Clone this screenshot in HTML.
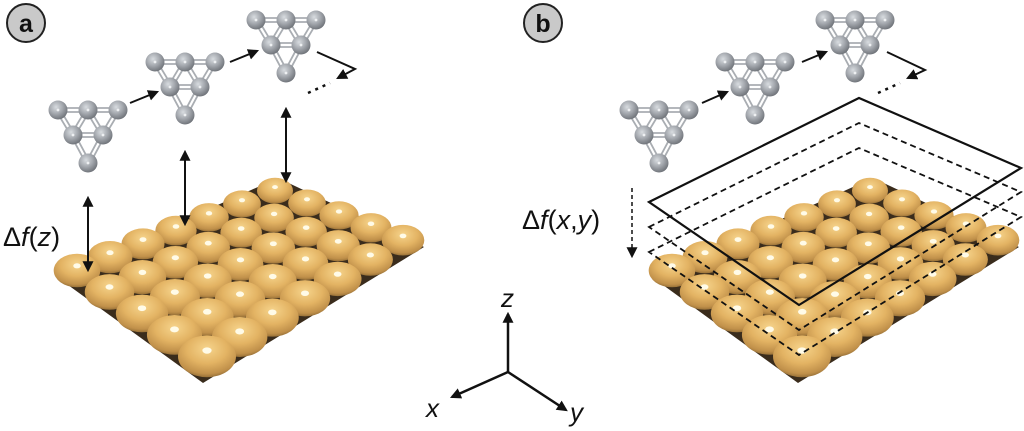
<!DOCTYPE html>
<html><head><meta charset="utf-8"><style>
html,body{margin:0;padding:0;background:#fff;}
svg{display:block;}
text{font-family:"Liberation Sans",sans-serif;}
</style></head><body>
<svg id="s" width="1024" height="431" viewBox="0 0 1024 431" xmlns="http://www.w3.org/2000/svg">
<defs>
<radialGradient id="au" cx="0.5" cy="0.32" r="0.7">
<stop offset="0" stop-color="#f6d48c"/>
<stop offset="0.5" stop-color="#e3b363"/>
<stop offset="0.85" stop-color="#c0904a"/>
<stop offset="1" stop-color="#8f6a34"/>
</radialGradient>
<radialGradient id="c" cx="0.4" cy="0.35" r="0.7">
<stop offset="0" stop-color="#d8dce0"/>
<stop offset="0.5" stop-color="#a4a8ae"/>
<stop offset="1" stop-color="#6a6e74"/>
</radialGradient>
<marker id="ah" viewBox="0 0 10 10" refX="8" refY="5" markerWidth="7" markerHeight="7" markerUnits="userSpaceOnUse" orient="auto-start-reverse">
<path d="M0,0 L10,5 L0,10 z" fill="#111"/>
</marker>
<marker id="ah2" viewBox="0 0 10 10" refX="8" refY="5" markerWidth="11" markerHeight="11" markerUnits="userSpaceOnUse" orient="auto-start-reverse">
<path d="M0,0 L10,5 L0,10 z" fill="#111"/>
</marker>
</defs>
<g id="surf"></g>
<g id="mols"></g>
<g fill="none" stroke="#111" stroke-width="2">
<line x1="130" y1="103" x2="157" y2="92" marker-end="url(#ah2)"/>
<line x1="230" y1="62" x2="257" y2="51" marker-end="url(#ah2)"/>
<polyline points="317,52 355,69 338,78" marker-end="url(#ah2)"/>
<line x1="308" y1="93" x2="330" y2="83" stroke-dasharray="3,5" stroke-width="2.5"/>
<line x1="88" y1="198" x2="88" y2="270" marker-start="url(#ah2)" marker-end="url(#ah2)"/>
<line x1="185" y1="152" x2="185" y2="224" marker-start="url(#ah2)" marker-end="url(#ah2)"/>
<line x1="286" y1="109" x2="286" y2="181" marker-start="url(#ah2)" marker-end="url(#ah2)"/>
<line x1="702" y1="103" x2="727" y2="92" marker-end="url(#ah2)"/>
<line x1="802" y1="62" x2="826" y2="52" marker-end="url(#ah2)"/>
<polyline points="887,52 925,70 908,78" marker-end="url(#ah2)"/>
<line x1="878" y1="93" x2="900" y2="83" stroke-dasharray="3,5" stroke-width="2.5"/>
<line x1="632" y1="188" x2="632" y2="256" stroke-dasharray="4,3" stroke-width="1.5" marker-end="url(#ah2)"/>
<line x1="508" y1="372" x2="508" y2="314" stroke-width="2.5" marker-end="url(#ah2)"/>
<line x1="508" y1="372" x2="452" y2="397" stroke-width="2.5" marker-end="url(#ah2)"/>
<line x1="508" y1="372" x2="566" y2="410" stroke-width="2.5" marker-end="url(#ah2)"/>
</g>
<g fill="none" stroke="#111" stroke-width="2.2">
<polygon points="649,202 859,98 1021,168 799,305"/>
<polygon points="649,227 859,123 1021,192 799,330" stroke-dasharray="6,4" stroke-width="1.8"/>
<polygon points="649,252 859,148 1021,217 799,355" stroke-dasharray="6,4" stroke-width="1.8"/>
</g>
<circle cx="26" cy="23" r="19" fill="#c9c9c9" stroke="#222" stroke-width="2"/>
<text x="26" y="32" font-size="25" font-weight="bold" text-anchor="middle" fill="#111">a</text>
<circle cx="543" cy="23" r="19" fill="#c9c9c9" stroke="#222" stroke-width="2"/>
<text x="543" y="32" font-size="25" font-weight="bold" text-anchor="middle" fill="#111">b</text>
<text x="3" y="246" font-size="27" fill="#111">Δ<tspan font-style="italic">f</tspan>(<tspan font-style="italic">z</tspan>)</text>
<text x="522" y="229" font-size="27" fill="#111">Δ<tspan font-style="italic">f</tspan>(<tspan font-style="italic">x</tspan>,<tspan font-style="italic">y</tspan>)</text>
<text x="501" y="307" font-size="26" font-style="italic" fill="#111">z</text>
<text x="426" y="417" font-size="26" font-style="italic" fill="#111">x</text>
<text x="570" y="421" font-size="26" font-style="italic" fill="#111">y</text>
</svg>
<script>
(function(){
var NS="http://www.w3.org/2000/svg";
function el(n,a,p){var e=document.createElementNS(NS,n);for(var k in a)e.setAttribute(k,a[k]);p.appendChild(e);return e;}
var surf=document.getElementById('surf'),mols=document.getElementById('mols');
var A=[77,267],B=[207,352],C=[403,237],D=[275,188];
[0,595].forEach(function(dx){
 el('polygon',{points:(57+dx)+',277 '+(203+dx)+',383 '+(424+dx)+',247 '+(278+dx)+',178',fill:'#3a2c1c'},surf);
 var sp=[];
 for(var i=0;i<5;i++)for(var j=0;j<7;j++){
  var u=i/4,v=j/6;
  var x=(1-u)*(1-v)*A[0]+u*(1-v)*B[0]+u*v*C[0]+(1-u)*v*D[0];
  var y=(1-u)*(1-v)*A[1]+u*(1-v)*B[1]+u*v*C[1]+(1-u)*v*D[1];
  sp.push([x+dx,y]);
 }
 sp.sort(function(a,b){return a[1]-b[1];});
 sp.forEach(function(p){
  var r=18+(p[1]-188)*11/164;
  el('ellipse',{cx:p[0],cy:p[1]+r*0.15,rx:r,ry:r*0.72,fill:'url(#au)'},surf);
  el('ellipse',{cx:p[0],cy:p[1]-r*0.05,rx:r*0.16,ry:r*0.11,fill:'#fffbe8'},surf);
 });
});
var M=[[58,110],[155,62],[256,20],[629,110],[725,62],[825,20]];
M.forEach(function(o){
 var x=o[0],y=o[1],s=30;
 var P=[[x,y],[x+s,y],[x+2*s,y],[x+s/2,y+25],[x+1.5*s,y+25],[x+s,y+53]];
 var bonds=[[0,1],[1,2],[0,3],[1,3],[1,4],[2,4],[3,4],[3,5],[4,5]];
 bonds.forEach(function(b){
  var a=P[b[0]],c=P[b[1]];var ddx=c[0]-a[0],ddy=c[1]-a[1],L=Math.sqrt(ddx*ddx+ddy*ddy);
  var nx=-ddy/L*2,ny=ddx/L*2;
  [1,-1].forEach(function(sg){el('line',{x1:a[0]+nx*sg,y1:a[1]+ny*sg,x2:c[0]+nx*sg,y2:c[1]+ny*sg,stroke:'#a9adb2','stroke-width':1.8},mols);});
 });
 P.forEach(function(p){
  el('circle',{cx:p[0],cy:p[1],r:9.5,fill:'url(#c)'},mols);
  el('circle',{cx:p[0],cy:p[1],r:1.4,fill:'#eef0f2'},mols);
 });
});
})();
</script>
</body></html>
